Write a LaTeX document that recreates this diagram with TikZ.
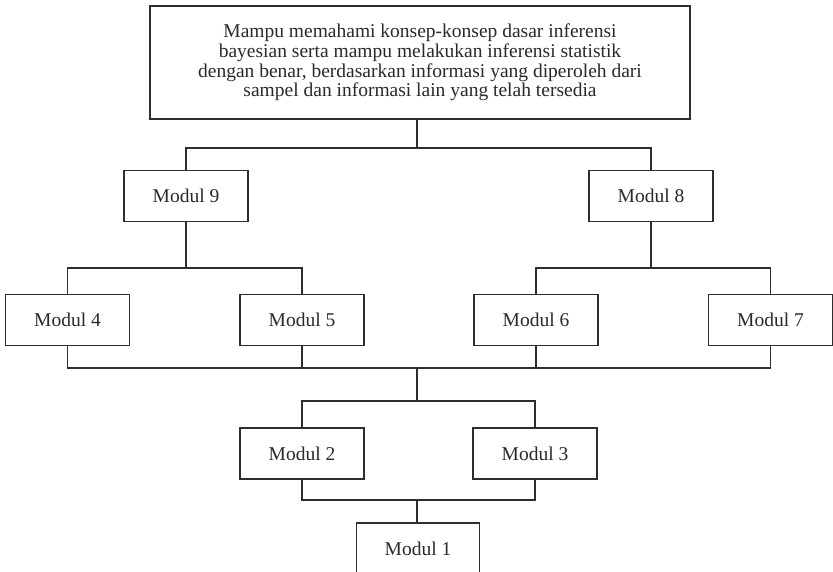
\documentclass[tikz,border=0pt]{standalone}
\usepackage{fontspec}
\setmainfont{Liberation Serif}
\definecolor{linec}{HTML}{2E2E2E}
\definecolor{textc}{HTML}{2A2A2A}
\begin{document}
\begin{tikzpicture}[x=1pt,y=-1pt,
  modbox/.style={draw=linec, line width=1.3pt, minimum width=124pt, minimum height=51pt, inner sep=0pt,
    font=\fontsize{19.5}{19.8}\selectfont, text=textc},
  link/.style={draw=linec, line width=1.3pt}]
\useasboundingbox (0,0) rectangle (833,572);
\fill[white] (0,0) rectangle (833,572);
\node[modbox, minimum width=540pt, minimum height=113pt, align=center] (goal) at (420,62.5)
  {Mampu memahami konsep-konsep dasar inferensi\\bayesian serta mampu melakukan inferensi statistik\\dengan benar, berdasarkan informasi yang diperoleh dari\\sampel dan informasi lain yang telah tersedia};
\node[modbox] (m9) at (186,196) {Modul 9};
\node[modbox] (m8) at (651,196) {Modul 8};
\node[modbox] (m4) at (67.5,320) {Modul 4};
\node[modbox] (m5) at (302,320) {Modul 5};
\node[modbox] (m6) at (536,320) {Modul 6};
\node[modbox] (m7) at (770.5,320) {Modul 7};
\node[modbox] (m2) at (302,453.5) {Modul 2};
\node[modbox] (m3) at (535,453.5) {Modul 3};
\node[modbox, minimum width=123pt] (m1) at (418,548.5) {Modul 1};
\coordinate (j1) at (417,148);
\coordinate (j2) at (417,268);
\coordinate (j3) at (417,368);
\coordinate (j4) at (417,401);
\coordinate (j5) at (417,500);
\draw[link] (goal.south -| j1) -- (j1);
\draw[link] (m9.north) |- (j1) -| (m8.north);
\draw[link] (m9.south) -- (m9.south |- j2);
\draw[link] (m4.north) |- (m5.north |- j2) -- (m5.north);
\draw[link] (m8.south) -- (m8.south |- j2);
\draw[link] (m6.north) |- (m7.north |- j2) -- (m7.north);
\draw[link] (m4.south) |- (m7.south |- j3) -- (m7.south);
\draw[link] (m5.south) -- (m5.south |- j3);
\draw[link] (m6.south) -- (m6.south |- j3);
\draw[link] (j3) -- (j4);
\draw[link] (m2.north) |- (j4) -| (m3.north);
\draw[link] (m2.south) |- (j5) -| (m3.south);
\draw[link] (j5) -- (j5 |- m1.north);
\end{tikzpicture}
\end{document}
